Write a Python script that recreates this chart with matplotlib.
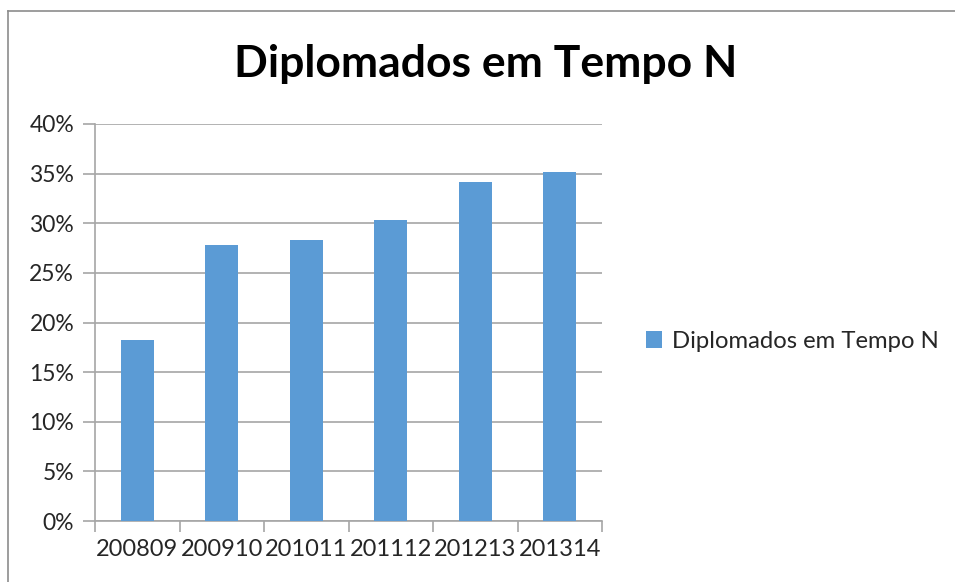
import matplotlib
matplotlib.use("Agg")
import matplotlib.pyplot as plt
from matplotlib.lines import Line2D
from matplotlib.patches import Patch
from matplotlib.ticker import FuncFormatter, MultipleLocator, FixedLocator
import numpy as np

categories = ["200809", "200910", "201011", "201112", "201213", "201314"]
values = [18.25, 27.8, 28.3, 30.3, 34.15, 35.15]
series_name = "Diplomados em Tempo N"
title = "Diplomados em Tempo N"

W, H = 955, 582
fig = plt.figure(figsize=(W / 100, H / 100), dpi=100)
plt.rcParams['font.family'] = ['Lato', 'DejaVu Sans']

def px(x0, y0, x1, y1):
    return [x0 / W, 1 - y1 / H, (x1 - x0) / W, (y1 - y0) / H]

ax = fig.add_axes(px(95, 124, 602, 521))
x = np.arange(len(categories))
bar_color = "#5B9BD5"
ax.bar(x, values, width=0.39, color=bar_color, zorder=3)

ax.set_xlim(-0.5, len(categories) - 0.5)
ax.set_ylim(0, 40)
ax.yaxis.set_major_locator(MultipleLocator(5))
ax.yaxis.set_major_formatter(FuncFormatter(lambda v, p: f"{int(round(v))}%"))
grid_col = "#A6A6A6"
ax.grid(axis="y", color=grid_col, linewidth=1.2, zorder=0)
for s in ["top", "right"]:
    ax.spines[s].set_visible(False)
for s in ["left", "bottom"]:
    ax.spines[s].set_color(grid_col)
    ax.spines[s].set_linewidth(1.2)

ax.set_xticks(x)
ax.set_xticklabels(categories)
ax.xaxis.set_minor_locator(FixedLocator(np.arange(-0.5, len(categories), 1.0)))
ax.tick_params(axis="x", which="major", length=0, pad=13, labelsize=17, colors="#262626")
ax.tick_params(axis="x", which="minor", length=8, width=1.2, color=grid_col)
ax.tick_params(axis="y", which="major", length=9, width=1.2, color=grid_col, pad=6,
               labelsize=16.5, labelcolor="#262626")

fig.text(486 / W, 1 - 64 / H, title, ha="center", va="center", fontsize=32,
         fontweight="bold", color="black")

handle = Patch(facecolor=bar_color, edgecolor="none")
fig.legend([handle], [series_name], loc="center left",
           bbox_to_anchor=(624 / W, 1 - 341 / H), frameon=False,
           fontsize=17.2, handlelength=0.7, handleheight=0.7, handletextpad=0.4,
           labelcolor="#262626")

frame_col = "#8C8C8C"
fig.add_artist(Line2D([8 / W, 1.0], [1 - 11 / H, 1 - 11 / H], color=frame_col, linewidth=1.2,
                      transform=fig.transFigure))
fig.add_artist(Line2D([8 / W, 8 / W], [0, 1 - 11 / H], color=frame_col, linewidth=1.2,
                      transform=fig.transFigure))

fig.savefig("out.png", dpi=100)
